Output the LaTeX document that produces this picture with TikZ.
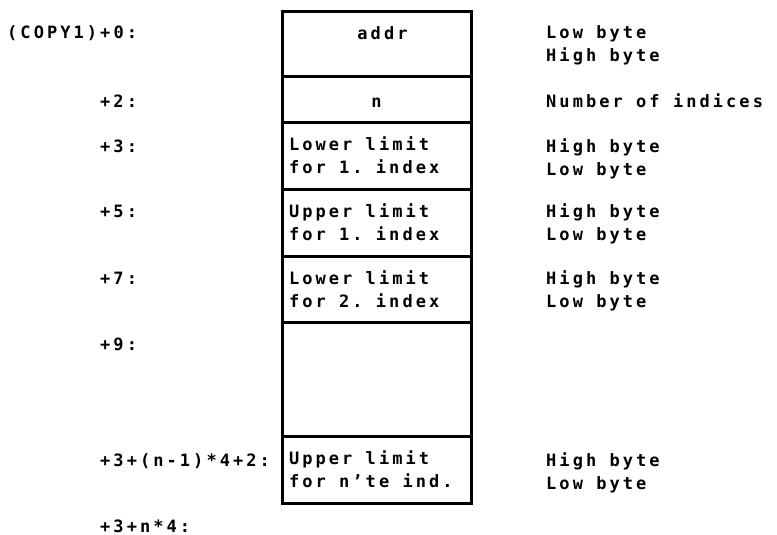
\documentclass[tikz,border=0pt]{standalone}
\usepackage{fontspec}
\setmonofont[LetterSpace=18]{DejaVu Sans Mono}
\usetikzlibrary{positioning}
\newcommand\chsp{\hspace{13.3pt}}
\tikzset{
cell/.style={rectangle, draw, line width=3pt, outer sep=0pt, inner xsep=7pt, inner ysep=0pt, minimum width=189pt, text width=175pt, align=left},
offset/.style={anchor=base west, inner sep=0pt, text width=200pt, align=left},
note/.style={anchor=base west, inner sep=0pt, text width=230pt, align=left}
}

\begin{document}
\begin{tikzpicture}[x=1pt, y=-1pt, every node/.style={font=\ttfamily\bfseries\fontsize{17}{23}\selectfont}]
    \useasboundingbox (0,0) rectangle (777,535);
    % the record
    \node[cell, minimum height=65pt, align=center] (addr) at (376.5,44.5) {\hspace{12pt}addr\\\mbox{}};
    \node[cell, minimum height=45pt, align=center, text height=15pt, text depth=0pt] (num) [below=0 of addr] {n};
    \node[cell, minimum height=67pt] (low1) [below=0 of num] {Lower\chsp limit\\for\chsp 1.\chsp index};
    \node[cell, minimum height=67pt] (upp1) [below=0 of low1] {Upper\chsp limit\\for\chsp 1.\chsp index};
    \node[cell, minimum height=66pt] (low2) [below=0 of upp1] {Lower\chsp limit\\for\chsp 2.\chsp index};
    \node[cell, minimum height=114pt] (gap) [below=0 of low2] {};
    \node[cell, minimum height=67pt] (uppn) [below=0 of gap] {Upper\chsp limit\\for\chsp n’te\chsp ind.};
    % offsets
    \node[offset] (off0) at (7,39) {(COPY1)+0:};
    \node[offset] (off2) at (100,107) {+2:};
    \node[offset] (off3) at (100,152) {+3:};
    \node[offset] (off5) at (100,217) {+5:};
    \node[offset] (off7) at (100,284) {+7:};
    \node[offset] (off9) at (100,350) {+9:};
    \node[offset] (offn) at (100,466) {+3+(n-1)*4+2:};
    \node[offset] (offend) at (100,532) {+3+n*4:};
    % byte order
    \node[note] (note0) at (546,39) {Low\chsp byte\\High\chsp byte};
    \node[note] (note2) at (546,107) {Number\chsp of\chsp indices};
    \node[note] (note3) at (546,152) {High\chsp byte\\Low\chsp byte};
    \node[note] (note5) at (546,217) {High\chsp byte\\Low\chsp byte};
    \node[note] (note7) at (546,284) {High\chsp byte\\Low\chsp byte};
    \node[note] (noten) at (546,466) {High\chsp byte\\Low\chsp byte};
\end{tikzpicture}
\end{document}
